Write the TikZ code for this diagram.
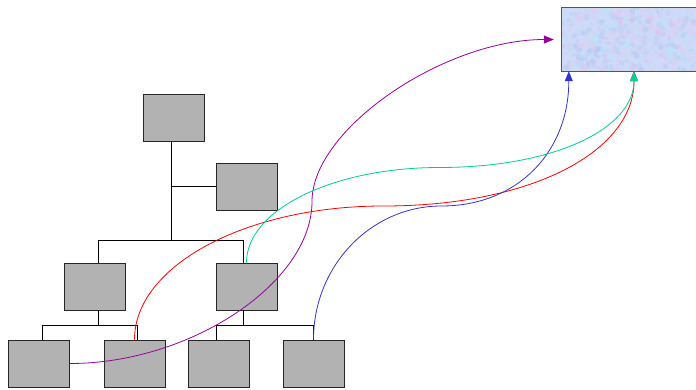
\documentclass[tikz,border=0pt]{standalone}
\usetikzlibrary{arrows.meta}
\definecolor{boxgray}{RGB}{178,178,178}
\definecolor{cpurple}{RGB}{153,0,153}
\definecolor{cblue}{RGB}{51,51,204}
\definecolor{cteal}{RGB}{0,204,153}
\definecolor{cred}{RGB}{255,0,0}
\definecolor{skybase}{RGB}{206,218,248}
\definecolor{skypink}{RGB}{236,196,236}
\definecolor{skycyan}{RGB}{182,230,250}
\definecolor{skyblue}{RGB}{176,196,244}
\tikzset{
  orgbox/.style={draw=black!85,line width=0.8pt,fill=boxgray,minimum width=61pt,minimum height=47pt,inner sep=0pt},
  treeline/.style={draw=black,line width=0.7pt},
  link/.style={line width=0.8pt,-{Triangle[length=10pt,width=8pt]}}
}
\begin{document}
\begin{tikzpicture}[x=1pt,y=-1pt]
\useasboundingbox (0,0) rectangle (696,389);
% junction coordinates
\coordinate (j0) at (171,240);
\coordinate (bL) at (98,240);
\coordinate (bR) at (243,240);
\coordinate (cL) at (98,325);
\coordinate (cL1) at (42,325);
\coordinate (cL2) at (137,325);
\coordinate (cR) at (243,325);
\coordinate (cR1) at (216,325);
\coordinate (cR2) at (313,325);
% boxes
\node[orgbox] (top) at (173.5,117.5) {};
\node[orgbox] (asst) at (246.5,186.5) {};
\node[orgbox] (ml) at (95,286.5) {};
\node[orgbox] (mr) at (246.5,286.5) {};
\node[orgbox] (bl1) at (39,363.5) {};
\node[orgbox] (bl2) at (134.5,363.5) {};
\node[orgbox] (bl3) at (218.5,363.5) {};
\node[orgbox] (bl4) at (313.5,363.5) {};
% target box with texture
\node[minimum width=138pt,minimum height=63pt,inner sep=0pt] (tr) at (631,39.5) {};
\begin{scope}
  \clip (tr.south west) rectangle (tr.north east);
  \fill[skybase] (tr.south west) rectangle (tr.north east);
  \pgfmathsetseed{7}
  \foreach \i in {1,...,650}{
    \pgfmathsetmacro{\rx}{562+134*rnd}
    \pgfmathsetmacro{\ry}{8+64*rnd}
    \pgfmathsetmacro{\rr}{1+2.2*rnd}
    \pgfmathtruncatemacro{\rc}{3*rnd}
    \ifcase\rc
      \fill[skypink,opacity=0.4] (\rx,\ry) circle (\rr);
    \or
      \fill[skycyan,opacity=0.4] (\rx,\ry) circle (\rr);
    \else
      \fill[skyblue,opacity=0.3] (\rx,\ry) circle (\rr);
    \fi
  }
\end{scope}
\draw[draw={rgb,255:red,80;green,84;blue,92},line width=1.1pt] (tr.south west) rectangle (tr.north east);
% tree lines
\draw[treeline] (top.south -| j0) -- (j0);
\draw[treeline] (j0 |- asst.west) -- (asst.west);
\draw[treeline] (bL) -- (bR);
\draw[treeline] (bL) -- (bL |- ml.north);
\draw[treeline] (bR) -- (bR |- mr.north);
\draw[treeline] (cL |- ml.south) -- (cL);
\draw[treeline] (cL1) -- (cL2);
\draw[treeline] (cL1) -- (cL1 |- bl1.north);
\draw[treeline] (cL2) -- (cL2 |- bl2.north);
\draw[treeline] (cR |- mr.south) -- (cR);
\draw[treeline] (cR1) -- (cR2);
\draw[treeline] (cR1) -- (cR1 |- bl3.north);
\draw[treeline] (cR2) -- (cR2 |- bl4.north);
% curve turning points and ends
\coordinate (pEnd) at ([xshift=-8pt]tr.west);
\coordinate (rtEnd) at ([xshift=3pt]tr.south);
\coordinate (bEnd) at ([xshift=7pt]tr.south west);
\coordinate (mP) at (312,201.5);
\coordinate (mR) at (383.25,206);
\coordinate (mB) at (441.25,206);
\coordinate (mT) at (439.25,167.5);
% curved links
\draw[link,cpurple] (bl1.east) .. controls +(121,0) and +(0,81) .. (mP)
   .. controls +(0,-73) and +(-109,0) .. (pEnd);
\draw[link,cred] (bl2.north) .. controls +(0,-74) and +(-137,0) .. (mR)
   .. controls +(149,0) and +(0,80) .. (rtEnd);
\draw[link,cblue] (bl4.north) .. controls +(0,-74) and +(-70,0) .. (mB)
   .. controls +(77,0) and +(0,80) .. (bEnd);
\draw[link,cteal] (mr.north) .. controls +(0,-53) and +(-106,0) .. (mT)
   .. controls +(116,0) and +(0,57) .. (rtEnd);
\end{tikzpicture}
\end{document}
